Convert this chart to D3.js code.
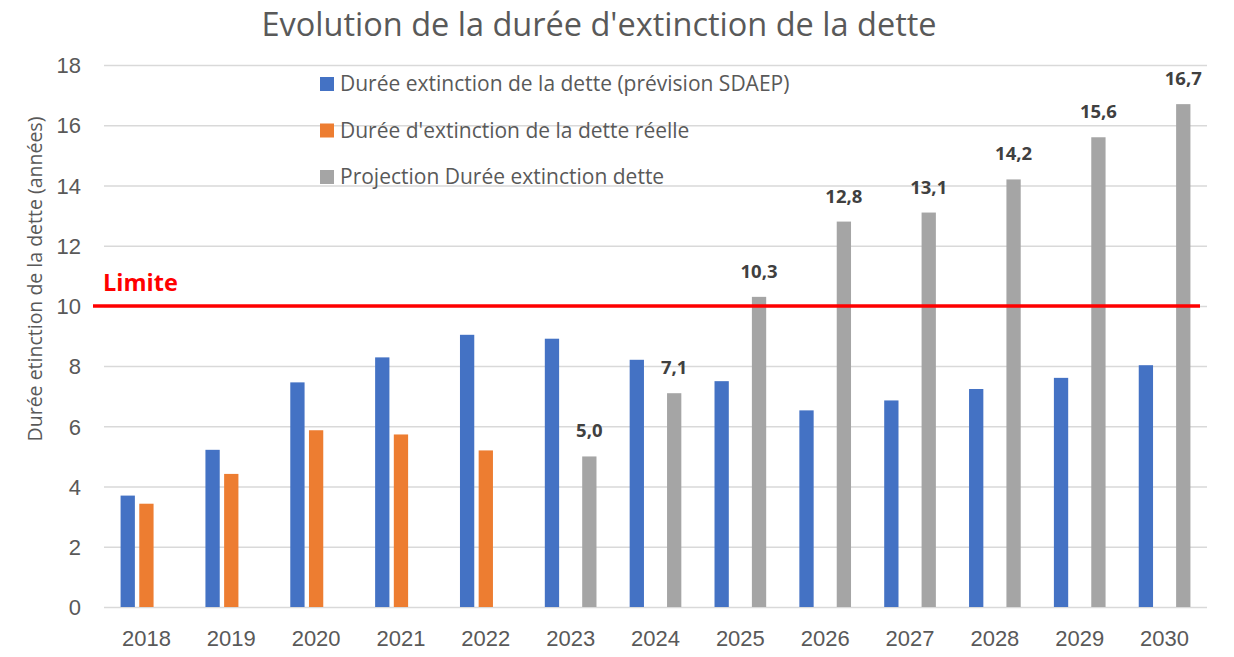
<!DOCTYPE html>
<html>
<head>
<meta charset="utf-8">
<script src="https://cdn.jsdelivr.net/npm/d3@7"></script>
<style>
  html, body { margin: 0; padding: 0; background: #fff; }
  svg { display: block; font-family: "Open Sans", sans-serif; }
</style>
</head>
<body>
<svg id="chart" width="1234" height="657"></svg>
<script>
const categories = ["2018","2019","2020","2021","2022","2023","2024","2025","2026","2027","2028","2029","2030"];
const seriesNames = [
  "Durée extinction de la dette (prévision SDAEP)",
  "Durée d'extinction de la dette réelle",
  "Projection Durée extinction dette"
];
const prevision = [3.70, 5.22, 7.46, 8.29, 9.04, 8.91, 8.21, 7.50, 6.53, 6.86, 7.24, 7.61, 8.03];
const reelle    = [3.43, 4.42, 5.87, 5.73, 5.20, null, null, null, null, null, null, null, null];
const projection= [null, null, null, null, null, 5.0, 7.1, 10.3, 12.8, 13.1, 14.2, 15.6, 16.7];
const yTicks = [0, 2, 4, 6, 8, 10, 12, 14, 16, 18];
const limitValue = 10;
const limitLabel = "Limite";
const title = "Evolution de la durée d'extinction de la dette";
const yTitle = "Durée etinction de la dette (années)";
const colors = ["#4472c4", "#ed7d31", "#a5a5a5"];

const W = 1234, H = 657;
const margin = {top: 65, right: 27, bottom: 50, left: 104};
const svg = d3.select("#chart");

const x0 = d3.scaleBand().domain(categories).range([margin.left, W - margin.right]).paddingInner(0).paddingOuter(0);
const groupW = x0.bandwidth() * 0.609;
const x1 = d3.scaleBand().domain(d3.range(3)).range([0, groupW]).paddingInner(0.235).paddingOuter(0);
const y = d3.scaleLinear().domain([0, 18]).range([H - margin.bottom, margin.top]);

// gridlines
const yAxis = d3.axisLeft(y).tickValues(yTicks).tickSize(-(W - margin.left - margin.right)).tickFormat(d3.format("d"));
const gy = svg.append("g").attr("transform", `translate(${margin.left},0)`).call(yAxis);
gy.select(".domain").remove();
gy.selectAll(".tick line").attr("stroke", "#d9d9d9").attr("stroke-width", 1.5);
gy.selectAll(".tick text").attr("x", -23).attr("fill", "#595959").attr("font-size", 22).attr("dy", "0.35em");

// x axis labels
const xAxis = d3.axisBottom(x0).tickSize(0).tickPadding(0);
const gx = svg.append("g").attr("transform", `translate(0,${H - margin.bottom})`).call(xAxis);
gx.select(".domain").remove();
gx.selectAll(".tick text").attr("fill", "#595959").attr("font-size", 22).attr("y", 39).attr("dy", 0);

// bars
const allSeries = [prevision, reelle, projection];
const groupOffset = (x0.bandwidth() - groupW) / 2;
allSeries.forEach((vals, si) => {
  const data = categories.map((c, i) => ({c, v: vals[i]})).filter(d => d.v != null);
  svg.append("g").selectAll("rect").data(data).join("rect")
    .attr("x", d => x0(d.c) + groupOffset + x1(si))
    .attr("width", x1.bandwidth())
    .attr("y", d => y(d.v))
    .attr("height", d => y(0) - y(d.v))
    .attr("fill", colors[si]);
});

// data labels for projection
const projData = categories.map((c, i) => ({c, v: projection[i]})).filter(d => d.v != null);
svg.append("g").selectAll("text").data(projData).join("text")
  .attr("x", d => x0(d.c) + groupOffset + x1(2) + x1.bandwidth() / 2)
  .attr("y", d => y(d.v) - 19)
  .attr("text-anchor", "middle")
  .attr("font-size", 18.5)
  .attr("font-weight", "bold")
  .attr("fill", "#404040")
  .text(d => d.v.toFixed(1).replace(".", ","));

// limit line
svg.append("line")
  .attr("x1", margin.left - 11).attr("x2", W - margin.right - 7)
  .attr("y1", y(limitValue)).attr("y2", y(limitValue))
  .attr("stroke", "#ff0000").attr("stroke-width", 3.5);
svg.append("text")
  .attr("x", margin.left - 1).attr("y", y(limitValue) - 15)
  .attr("fill", "#ff0000").attr("font-weight", "bold").attr("font-size", 23.5)
  .text(limitLabel);

// legend
const legend = svg.append("g");
seriesNames.forEach((name, i) => {
  const cy = 84 + i * 46.5;
  legend.append("rect").attr("x", 320).attr("y", cy - 7).attr("width", 14).attr("height", 14).attr("fill", colors[i]);
  legend.append("text").attr("x", 340).attr("y", cy).attr("dy", "0.35em")
    .attr("fill", "#595959").attr("font-size", 21).text(name);
});

// title
svg.append("text").attr("x", 599).attr("y", 36).attr("text-anchor", "middle")
  .attr("fill", "#595959").attr("font-size", 32.5).text(title);

// y title
svg.append("text").attr("transform", `translate(42,279) rotate(-90)`).attr("text-anchor", "middle")
  .attr("fill", "#595959").attr("font-size", 19.5).text(yTitle);
</script>
</body>
</html>
